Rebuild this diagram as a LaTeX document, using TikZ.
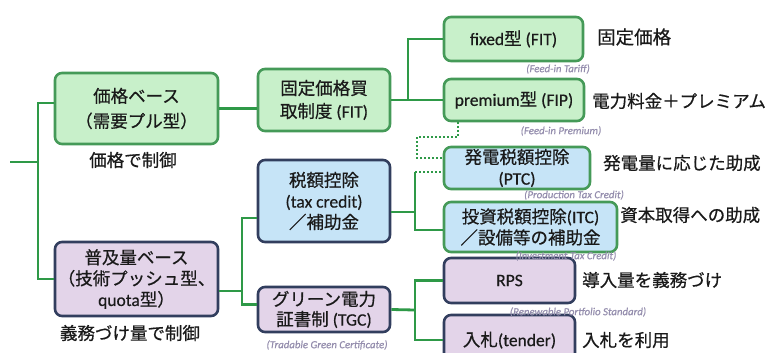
\documentclass[tikz,border=0pt]{standalone}
\usepackage{fontspec}
\setmainfont{Carlito}[FakeBold=0.5]
\newfontfamily\jpf{Noto Sans CJK JP}[FakeBold=0.6]
\newcommand{\jt}[1]{{\jpf #1}}
\usetikzlibrary{calc}
\definecolor{gfill}{HTML}{C8F0CA}
\definecolor{gline}{HTML}{459A58}
\definecolor{bfill}{HTML}{C6E4F7}
\definecolor{pfill}{HTML}{E3D4E9}
\definecolor{navy}{HTML}{323E5E}
\definecolor{cline}{HTML}{2E9947}
\definecolor{txt}{HTML}{1A1A1A}
\definecolor{notec}{HTML}{958EAE}
\begin{document}
\begin{tikzpicture}[x=1pt,y=-1pt,
  basebox/.style={draw, rounded corners=7pt, line width=2.6pt, align=center, inner sep=0pt, text=txt, font=\fontsize{17.5}{21}\selectfont},
  gnode/.style={basebox, fill=gfill, draw=gline},
  bnode/.style={basebox, fill=bfill, draw=navy},
  bgnode/.style={basebox, fill=bfill, draw=gline},
  pnode/.style={basebox, fill=pfill, draw=navy},
  conn/.style={draw=cline, line width=2.8pt},
  conndot/.style={draw=cline, line width=2.8pt, dash pattern=on 1.6pt off 2.4pt},
  side/.style={anchor=west, inner sep=0pt, text=txt, font=\fontsize{17.5}{21}\selectfont},
  cside/.style={inner sep=0pt, text=txt, font=\fontsize{17.5}{21}\selectfont},
  note/.style={inner sep=0pt, text=notec, font=\fontsize{10.8}{12}\selectfont\itshape}
]
\useasboundingbox (0,0) rectangle (768,353);
\fill[white] (0,0) rectangle (768,353);
\clip (0,0) rectangle (768,353);

% boxes
\node[gnode, minimum width=163pt, minimum height=71pt, font=\fontsize{17.5}{25}\selectfont] (A) at (136.5,108.5) {\jt{価格ベース}\\\jt{（需要プル型）}};
\node[pnode, minimum width=163pt, minimum height=74pt] (B) at (136.5,279) {\jt{普及量ベース}\\\jt{（技術プッシュ型、}\\quota\jt{型）}};
\node[gnode, minimum width=132pt, minimum height=62pt, font=\fontsize{17.5}{23}\selectfont] (C) at (324,100) {\jt{固定価格買}\\\jt{取制度} (FIT)};
\node[bnode, minimum width=132pt, minimum height=82pt] (D) at (324,201) {\jt{税額控除}\\(tax credit)\\\jt{／補助金}};
\node[pnode, minimum width=132pt, minimum height=45pt, font=\fontsize{17.5}{20}\selectfont] (E) at (324,309.5) {\jt{グリーン電力}\\\jt{証書制} (TGC)};
\node[gnode, minimum width=139pt, minimum height=44pt] (F) at (513.5,39) {fixed\jt{型} (FIT)};
\node[gnode, minimum width=140pt, minimum height=42pt] (G) at (514,100) {premium\jt{型} (FIP)};
\node[bgnode, minimum width=146pt, minimum height=42pt] (H) at (517,168) {\jt{発電税額控除}\\(PTC)};
\node[bgnode, minimum width=173pt, minimum height=50pt, font=\fontsize{17.5}{21}\selectfont] (I) at (530.5,227) {\jt{投資税額控除}(ITC)\\\jt{／設備等の補助金}};
\node[pnode, minimum width=131pt, minimum height=45pt] (J) at (509.5,280.5) {RPS};
\node[pnode, minimum width=131pt, minimum height=50pt] (K) at (509.5,340) {\jt{入札}(tender)};

% side texts
\node[cside] (tA) at (133,160) {\jt{価格で制御}};
\node[cside] (tB) at (130,333) {\jt{義務づけ量で制御}};
\node[side, font=\fontsize{18.5}{21}\selectfont] (tF) at (597,37) {\jt{固定価格}};
\node[side] (tG) at (592,101) {\jt{電力料金＋プレミアム}};
\node[side] (tH) at (603,163) {\jt{発電量に応じた助成}};
\node[side] (tI) at (620,215) {\jt{資本取得への助成}};
\node[side] (tJ) at (582,280) {\jt{導入量を義務づけ}};
\node[side] (tK) at (582,340) {\jt{入札を利用}};

% notes
\node[note] (nF) at (558,69) {(Feed-in Tariff)};
\node[note] (nG) at (561,131) {(Feed-in Premium)};
\node[note] (nH) at (574,195) {(Production Tax Credit)};
\node[note] (nI) at (566,256) {(Investment Tax Credit)};
\node[note] (nJ) at (578,312) {(Renewable Portfolio Standard)};
\node[note] (nE) at (327,345) {(Tradable Green Certificate)};

% junctions
\coordinate (root) at (10,162);
\coordinate (j1) at (38,162);
\coordinate (j2) at (408,100);
\coordinate (j3) at (242,291);
\coordinate (j4) at (415,212);
\coordinate (j4t) at (415,172);
\coordinate (j5) at (415,310);
\coordinate (d1) at (417,137);

% connectors
\draw[conn] (root) -- (j1);
\draw[conn] ([yshift=5.5pt]A.west) -| (j1) |- (B.west);
\draw[conn] (A.east) -- (A.east -| C.west);
\draw[conn] (C.east) -- (G.west);
\draw[conn] (j2) |- (F.west);
\draw[conn] ([yshift=-12pt]B.east) -- (j3);
\draw[conn] ([yshift=-17pt]D.west) -| (j3) |- ([yshift=5pt]E.west);
\draw[conn] ([yshift=-11pt]D.east) -- (j4);
\draw[conn] (j4t) |- ([yshift=-3pt]I.west);
\draw[conndot] (j4t) -- (j4t -| H.west);
\draw[conndot] ([xshift=-56pt]G.south) |- (d1) |- ([yshift=10pt]H.west);
\draw[conn] (E.east) -- (j5);
\draw[conn] (J.west) -| (j5) |- (K.west);
\end{tikzpicture}
\end{document}
